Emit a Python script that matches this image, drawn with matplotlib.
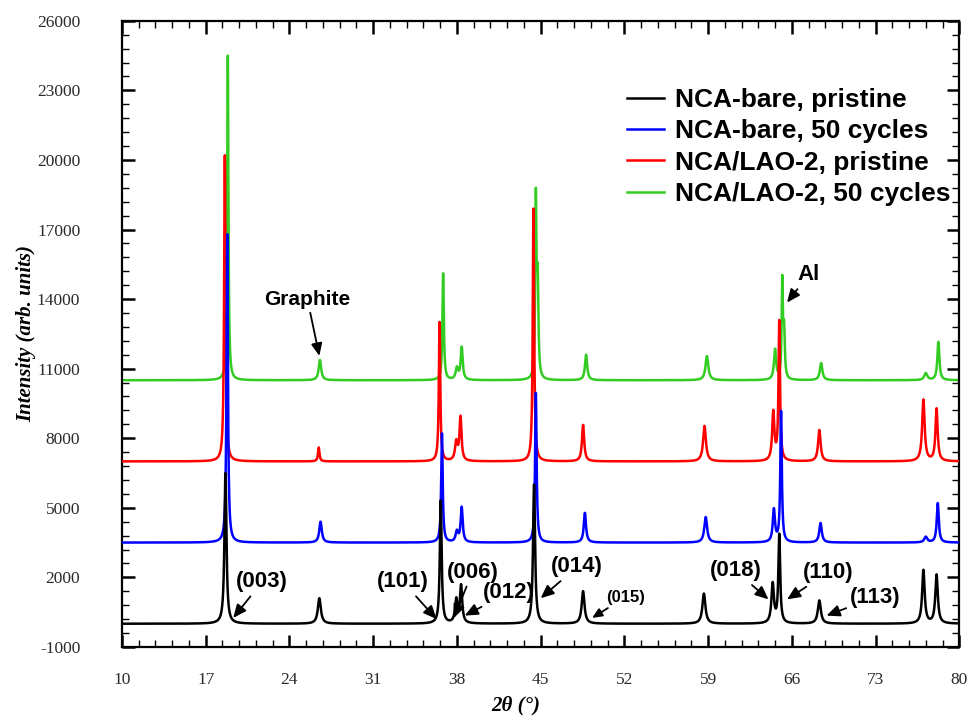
import matplotlib
matplotlib.use("Agg")
import matplotlib.pyplot as plt
import numpy as np

plt.rcParams["axes.unicode_minus"] = False

# peak positions (2theta), peak heights and widths for each pattern
labels = ["NCA-bare, pristine", "NCA-bare, 50 cycles",
          "NCA/LAO-2, pristine", "NCA/LAO-2, 50 cycles"]
colors = ["#000000", "#0000ff", "#ff0000", "#33cc22"]
offsets = [0, 3500, 7000, 10500]

bare_pos = [18.65, 26.5, 36.65, 37.95, 38.35, 44.45, 48.55, 58.65, 64.4,
            64.95, 68.3, 77.0, 78.1]
bare_hts = [6500, 1100, 5300, 1000, 1600, 6000, 1400, 1300, 1700, 3800,
            1000, 2300, 2100]
bare_wid = [0.2, 0.3, 0.18, 0.25, 0.22, 0.2, 0.28, 0.3, 0.25, 0.18, 0.3,
            0.25, 0.25]

bare50_pos = [18.8, 26.6, 36.75, 38.0, 38.4, 44.6, 48.7, 58.8, 64.5, 65.1,
              68.4, 77.2, 78.2]
bare50_hts = [13300, 900, 4700, 450, 1500, 6450, 1280, 1100, 1400, 5630,
              840, 240, 1700]
bare50_wid = [0.14, 0.25, 0.15, 0.25, 0.2, 0.15, 0.22, 0.28, 0.22, 0.15,
              0.25, 0.3, 0.2]

lao_pos = [18.6, 26.45, 36.55, 37.95, 38.3, 44.4, 48.55, 58.7, 64.45, 64.95,
           68.3, 77.0, 78.1]
lao_hts = [13200, 600, 6000, 800, 1870, 10900, 1570, 1530, 2090, 6000, 1350,
           2650, 2260]
lao_wid = [0.14, 0.15, 0.14, 0.25, 0.2, 0.14, 0.22, 0.28, 0.22, 0.15, 0.25,
           0.25, 0.22]

lao50_pos = [18.85, 26.55, 36.85, 38.0, 38.4, 44.6, 44.75, 48.8, 58.9, 64.6,
             65.2, 65.35, 68.45, 77.2, 78.25]
lao50_hts = [14000, 870, 4600, 500, 1400, 7500, 4000, 1100, 1040, 1300, 4100,
             2000, 740, 300, 1650]
lao50_wid = [0.12, 0.25, 0.14, 0.25, 0.2, 0.12, 0.15, 0.22, 0.28, 0.22, 0.12,
             0.15, 0.25, 0.3, 0.2]

peaks = [(bare_pos, bare_hts, bare_wid), (bare50_pos, bare50_hts, bare50_wid),
         (lao_pos, lao_hts, lao_wid), (lao50_pos, lao50_hts, lao50_wid)]

xticks = [10, 17, 24, 31, 38, 45, 52, 59, 66, 73, 80]
yticks = [-1000, 2000, 5000, 8000, 11000, 14000, 17000, 20000, 23000, 26000]

# (text, text position, arrow tip, font size)
notes = [
    ("Graphite", (25.5, 14000), (26.5, 11550), 15),
    ("Al", (67.4, 15050), (65.6, 13850), 16),
    ("(003)", (21.7, 1800), (19.3, 250), 16),
    ("(101)", (33.5, 1800), (36.3, 200), 16),
    ("(006)", (39.3, 2230), (37.75, 250), 16),
    ("(012)", (42.3, 1330), (38.65, 350), 16),
    ("(014)", (48.05, 2450), (45.0, 1100), 16),
    ("(015)", (52.1, 1150), (49.3, 250), 12),
    ("(018)", (61.3, 2280), (64.05, 1050), 16),
    ("(110)", (69.0, 2200), (65.6, 1050), 16),
    ("(113)", (73.0, 1150), (68.9, 350), 16),
]


def pattern(x, pos, hts, wid):
    y = np.zeros_like(x)
    for p, h, w in zip(pos, hts, wid):
        y += h / (1 + ((x - p) / (w / 2)) ** 2)
    return y


x = np.linspace(10, 80, 7001)

fig = plt.figure(figsize=(9.68, 7.18), dpi=100)
ax = fig.add_axes([0.126, 0.099, 0.865, 0.872])

lines = []
for i in range(4):
    pos, hts, wid = peaks[i]
    ln, = ax.plot(x, offsets[i] + pattern(x, pos, hts, wid),
                  color=colors[i], lw=1.8, label=labels[i])
    lines.append(ln)
# cycled sample drawn first, bare pristine on top
for z, ln in enumerate(reversed(lines)):
    ln.set_zorder(2 + z)

ax.set_xlim(10, 80)
ax.set_ylim(-1000, 26000)
ax.set_xticks(xticks)
ax.set_xticks(np.arange(10, 80.01, 1.4), minor=True)
ax.set_yticks(yticks)
ax.set_yticks(np.arange(-1000, 26001, 600), minor=True)
ax.tick_params(which="both", direction="in", top=True, right=True)
ax.tick_params(which="major", length=9, width=1.8)
ax.tick_params(which="minor", length=5, width=1.0)
ax.tick_params(axis="y", pad=30)
ax.tick_params(axis="x", pad=18)
for lab in ax.get_xticklabels() + ax.get_yticklabels():
    lab.set_family("Liberation Serif")
    lab.set_fontsize(12.5)
    lab.set_color("#2a2a2a")
for s in ax.spines.values():
    s.set_linewidth(1.6)

ax.set_xlabel("2θ (°)", family="Liberation Serif", style="italic",
              weight="bold", fontsize=15)
ax.set_ylabel("Intensity (arb. units)", family="Liberation Serif",
              style="italic", weight="bold", fontsize=15)
ax.xaxis.set_label_coords(0.47, -0.078)
ax.yaxis.set_label_coords(-0.103, 0.5)

ax.legend(handles=lines, loc="upper right", bbox_to_anchor=(0.99, 0.893),
          frameon=False, prop={"family": "Liberation Sans", "weight": "bold",
                               "size": 19},
          handlelength=1.4, handletextpad=0.45, labelspacing=0.28,
          borderpad=0, borderaxespad=0)

for text, xy_text, xy_tip, fs in notes:
    ax.annotate(text, xy=xy_tip, xytext=xy_text, ha="center", va="center",
                family="Liberation Sans", weight="bold", fontsize=fs,
                arrowprops=dict(arrowstyle="-|>,head_length=0.5,head_width=0.22",
                                color="black", lw=1.3, shrinkA=1, shrinkB=0),
                zorder=10)

fig.savefig("out.png", dpi=100)
